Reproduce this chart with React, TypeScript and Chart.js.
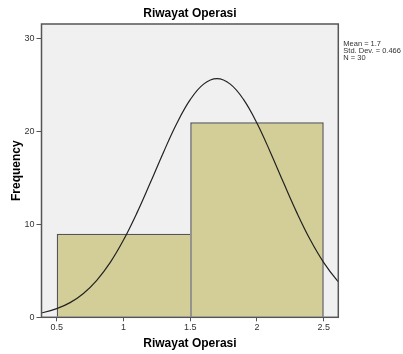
import React, { useEffect, useRef } from "react";
import { Chart, registerables } from "chart.js";

Chart.register(...registerables);

const titleText = "Riwayat Operasi";
const xAxisTitle = "Riwayat Operasi";
const yAxisTitle = "Frequency";
const statsLines = ["Mean = 1.7", "Std. Dev. = 0.466", "N = 30"];

// histogram bins (centers) and frequencies
const binCenters = [1, 2];
const binCounts = [9, 21];

// fitted normal curve
const curveX = [0.3, 0.4, 0.5, 0.6, 0.7, 0.8, 0.9, 1.0, 1.1, 1.2, 1.3, 1.4, 1.5, 1.6, 1.7, 1.8, 1.9, 2.0, 2.1, 2.2, 2.3, 2.4, 2.5, 2.6, 2.7];
const curveY = [0.28, 0.52, 0.93, 1.58, 2.57, 3.98, 5.88, 8.31, 11.21, 14.44, 17.77, 20.88, 23.42, 25.09, 25.68, 25.09, 23.42, 20.88, 17.77, 14.44, 11.21, 8.31, 5.88, 3.98, 2.57];

const xTicks = [0.5, 1, 1.5, 2, 2.5];
const yTicks = [0, 10, 20, 30];

const FONT = "'Liberation Sans', Arial, sans-serif";

export default function App() {
  const ref = useRef<HTMLCanvasElement | null>(null);

  useEffect(() => {
    document.body.style.margin = "0";
    const canvas = ref.current;
    if (!canvas) return;

    const framePlugin = {
      id: "frame",
      beforeDatasetsDraw(chart: any) {
        const { ctx, chartArea: a } = chart;
        ctx.save();
        ctx.fillStyle = "#f0f0f0";
        ctx.fillRect(a.left, a.top, a.right - a.left, a.bottom - a.top);
        ctx.restore();
      },
      afterDatasetsDraw(chart: any) {
        const { ctx, chartArea: a } = chart;
        ctx.save();
        ctx.strokeStyle = "#555555";
        ctx.lineWidth = 1.5;
        ctx.strokeRect(a.left, a.top, a.right - a.left, a.bottom - a.top);
        ctx.restore();
      },
      afterDraw(chart: any) {
        const { ctx, chartArea: a } = chart;
        ctx.save();
        ctx.fillStyle = "#000";
        ctx.font = `bold 12px ${FONT}`;
        ctx.textAlign = "center";
        ctx.textBaseline = "middle";
        ctx.fillText(titleText, (a.left + a.right) / 2, 14);
        ctx.font = `7.5px ${FONT}`;
        ctx.fillStyle = "#333";
        ctx.textAlign = "left";
        statsLines.forEach((t, i) => ctx.fillText(t, a.right + 5, 43.5 + i * 7));
        ctx.restore();
      },
    };

    const lastBar = binCenters.length - 1;

    const chart = new Chart(canvas, {
      type: "bar",
      data: {
        datasets: [
          {
            type: "line",
            data: curveX.map((x, i) => ({ x, y: curveY[i] })),
            borderColor: "#222222",
            borderWidth: 1.2,
            pointRadius: 0,
            tension: 0.4,
            fill: false,
            order: 0,
          } as any,
          {
            type: "bar",
            data: binCenters.map((x, i) => ({ x, y: binCounts[i] })),
            backgroundColor: "#d3ce98",
            borderColor: "#555555",
            borderWidth: (c: any) => ({
              top: 1.5,
              left: 1.5,
              bottom: 0,
              right: c.dataIndex === lastBar ? 1.5 : 0,
            }),
            borderSkipped: false,
            barPercentage: 2,
            categoryPercentage: 1,
            order: 1,
          } as any,
        ],
      },
      options: {
        animation: false,
        responsive: false,
        maintainAspectRatio: false,
        layout: { padding: { left: 0, top: 24, right: 64.7, bottom: 0 } },
        plugins: {
          legend: { display: false },
          tooltip: { enabled: false },
          title: { display: false },
        },
        scales: {
          x: {
            type: "linear",
            min: 0.386,
            max: 2.609,
            offset: false,
            afterBuildTicks: (s: any) => {
              s.ticks = xTicks.map((v) => ({ value: v }));
            },
            afterFit: (s: any) => {
              s.height = 36.7;
            },
            grid: { display: true, offset: false, drawOnChartArea: false, drawTicks: true, tickLength: 4, color: "#555555", lineWidth: 1 },
            border: { display: false },
            ticks: {
              autoSkip: false,
              maxRotation: 0,
              padding: 1,
              color: "#333",
              font: { family: FONT, size: 9 },
              callback: (v: any) => String(v),
            },
            title: {
              display: true,
              text: xAxisTitle,
              color: "#000",
              font: { family: FONT, size: 12, weight: "bold" },
              padding: { top: 4, bottom: 3 },
            },
          },
          y: {
            type: "linear",
            min: 0,
            max: 31.56,
            afterBuildTicks: (s: any) => {
              s.ticks = yTicks.map((v) => ({ value: v }));
            },
            afterFit: (s: any) => {
              s.width = 41.5;
            },
            grid: { display: true, drawOnChartArea: false, drawTicks: true, tickLength: 5, color: "#555555", lineWidth: 1 },
            border: { display: false },
            ticks: {
              padding: 2,
              color: "#333",
              font: { family: FONT, size: 9 },
            },
            title: {
              display: true,
              text: yAxisTitle,
              color: "#000",
              font: { family: FONT, size: 12, weight: "bold" },
              padding: { top: 9.5, bottom: 0 },
            },
          },
        },
      } as any,
      plugins: [framePlugin],
    });

    return () => chart.destroy();
  }, []);

  return (
    <div style={{ width: 403, height: 354 }}>
      <canvas ref={ref} width={403} height={354} style={{ display: "block" }} />
    </div>
  );
}
